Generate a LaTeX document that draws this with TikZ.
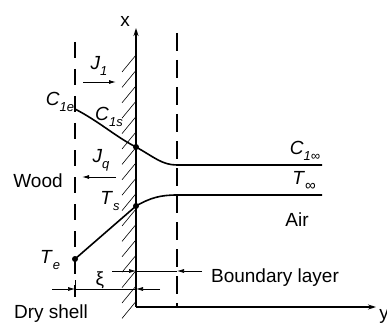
\documentclass[tikz,border=0pt]{standalone}
\usepackage{fontspec}
\setmainfont{Liberation Sans}
\usetikzlibrary{arrows.meta}
\newcommand{\lbl}[2]{\textit{#1}\raisebox{-0.32em}{\fontsize{13}{13}\selectfont\textit{#2}}}
\begin{document}
\begin{tikzpicture}[x=1pt,y=-1pt,
  every node/.style={inner sep=0pt,font=\fontsize{19}{22}\selectfont},
  axisline/.style={line width=1.4pt},
  curveline/.style={line width=1.6pt},
  dashline/.style={line width=1.3pt,dash pattern=on 18pt off 9pt},
  hatchline/.style={line width=0.6pt},
  dimline/.style={line width=0.7pt},
  tip/.style={-{Latex[length=7pt,width=4pt]}},
  dot/.style={circle,fill=black,minimum size=6pt,inner sep=0pt}]
\useasboundingbox (0,0) rectangle (387,323);
% axes
\coordinate (O) at (136,307);
\coordinate (xtop) at (136,28);
\coordinate (yend) at (376,307);
\draw[axisline,-{Stealth[length=8pt,width=5pt]}] (O) -- (xtop);
\draw[line width=1.1pt,-{Stealth[length=8pt,width=5pt]}] (O) -- (yend);
\node (xl) at (125,21) {x};
\node (yl) at (384,316) {y};
% hatching
\foreach \k in {0,...,16}
  \draw[hatchline] (122,{72+15.4*\k}) -- (136,{55+15.4*\k});
% dashed boundaries
\coordinate (L1) at (75,42);
\coordinate (L2) at (75,297);
\coordinate (R1) at (177,33);
\coordinate (R2) at (177,307);
\draw[dashline,dash pattern=on 16pt off 11pt] (L1) -- (L2);
\draw[dashline] (R1) -- (R2);
% concentration curve
\coordinate (c1e) at (75,109);
\node[dot] (c1s) at (136,147) {};
\coordinate (c1b) at (177,165);
\coordinate (c1end) at (322,165);
\draw[curveline] (c1e) .. controls (100,122) and (116,137) .. (c1s.center)
  .. controls (154,157) and (162,165) .. (c1b) -- (c1end);
% temperature curve
\node[dot] (te) at (75,259) {};
\node[dot] (ts) at (136,206) {};
\coordinate (tb) at (177,195);
\coordinate (tend) at (322,195);
\draw[curveline] (te.center) -- (ts.center)
  .. controls (150,198) and (160,195) .. (tb) -- (tend);
% flux arrows
\coordinate (j1a) at (83,82);
\coordinate (j1b) at (116,82);
\draw[dimline,line width=0.9pt,tip] (j1a) -- (j1b);
\coordinate (jqa) at (116,177);
\coordinate (jqb) at (82,177);
\draw[dimline,line width=0.9pt,tip] (jqa) -- (jqb);
% dimension lines
\coordinate (bl1) at (112,271);
\coordinate (bl2) at (136,271);
\coordinate (bl3) at (177,271);
\coordinate (bl4) at (202,271);
\draw[dimline,tip] (bl1) -- (bl2);
\draw[dimline] (bl2) -- (bl3);
\draw[dimline,tip] (bl4) -- (bl3);
\coordinate (ds1) at (52,289);
\coordinate (ds2) at (75,289);
\coordinate (ds3) at (136,289);
\coordinate (ds4) at (160,289);
\draw[dimline,tip] (ds1) -- (ds2);
\draw[dimline] (ds2) -- (ds3);
\draw[dimline,tip] (ds4) -- (ds3);
\draw[dimline,line width=1pt] (75,280) -- (75,297);
% labels
\node (J1) at (99,66) {\lbl{J}{1}};
\node (C1e) at (60,102) {\lbl{C}{1e}};
\node (C1s) at (109,117) {\lbl{C}{1s}};
\node (Jq) at (101,160) {\lbl{J}{q}};
\node (wood) at (38,181) {Wood};
\node (Ts) at (110,201) {\lbl{T}{s}};
\node (Te) at (50,260) {\lbl{T}{e}};
\node (xi) at (100,280) {ξ};
\node (C1inf) at (305,151) {\lbl{C}{1∞}};
\node (Tinf) at (304,181) {\textit{T}\raisebox{-0.3em}{\fontsize{15}{15}\selectfont ∞}};
\node (air) at (297,220) {Air};
\node (bl) at (275,278) {Boundary layer};
\node (dry) at (51,314) {Dry shell};
\end{tikzpicture}
\end{document}
